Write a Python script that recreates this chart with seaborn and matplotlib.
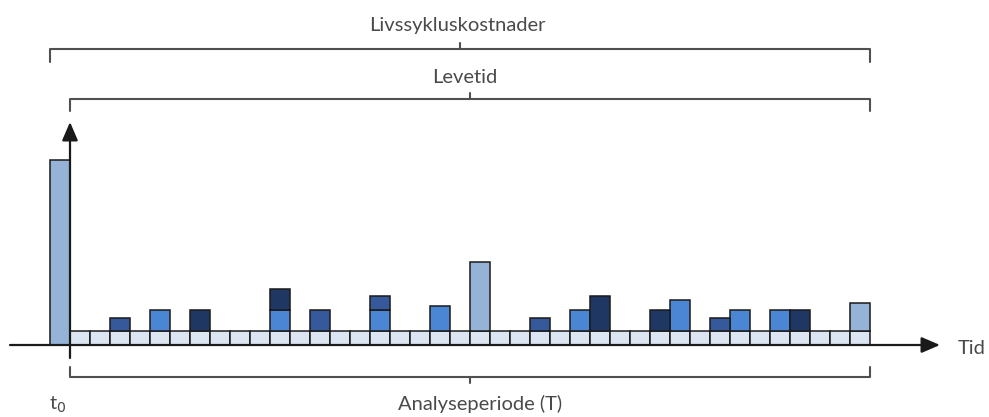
import numpy as np
import pandas as pd
import matplotlib
matplotlib.use("Agg")
import matplotlib.pyplot as plt
import seaborn as sns

# category 0 = t0, categories 1..40 = the periods of the analysis period
cells = list(range(41))

# bottom row (t0 investment + constant yearly cost)
base_h = [185] + [14] * 40
base_kind = ["investering"] + ["drift_fast"] * 40

# costs stacked on top of the yearly row
layer1_cells = [3, 5, 7, 11, 13, 16, 19, 21, 24, 26, 27, 30, 31, 33, 34, 36, 37, 40]
layer1_h = [13, 21, 21, 21, 21, 21, 25, 69, 13, 21, 35, 21, 31, 13, 21, 21, 21, 28]
layer1_kind = ["drift", "vedlikehold", "utskifting", "vedlikehold", "drift", "vedlikehold",
               "vedlikehold", "investering", "drift", "vedlikehold", "utskifting", "utskifting",
               "vedlikehold", "drift", "vedlikehold", "vedlikehold", "utskifting", "investering"]

# second stacked segment
layer2_cells = [11, 16]
layer2_h = [21, 14]
layer2_kind = ["utskifting", "drift"]

palette = {
    "investering": "#95b3d7",
    "drift_fast": "#dce6f2",
    "vedlikehold": "#4a86d3",
    "drift": "#35599a",
    "utskifting": "#1f3763",
}

sns.set_theme(style="white")
plt.rcParams["font.family"] = ["Lato", "DejaVu Sans"]

fig = plt.figure(figsize=(9.89, 4.17), dpi=100)
ax = fig.add_axes([0, 0, 1, 1])

bar_kws = dict(order=cells, hue_order=list(palette), palette=palette, dodge=False,
               width=1, saturation=1, legend=False, edgecolor="#1a1a1a", linewidth=1.1, ax=ax)

base_df = pd.DataFrame({"cell": cells, "h": base_h, "kind": base_kind})
sns.barplot(data=base_df, x="cell", y="h", hue="kind", **bar_kws)

l1 = pd.DataFrame({"cell": layer1_cells, "h": layer1_h, "kind": layer1_kind})
sns.barplot(data=l1, x="cell", y="h", hue="kind", bottom=14, **bar_kws)

l2 = pd.DataFrame({"cell": layer2_cells, "h": layer2_h, "kind": layer2_kind})
sns.barplot(data=l2, x="cell", y="h", hue="kind", bottom=35, **bar_kws)

ax.set_xlim(-3, 46.45)
ax.set_ylim(-72, 345)
ax.axis("off")

axis_col = "#1a1a1a"
arrow = dict(arrowstyle="-|>,head_length=0.7,head_width=0.3", color=axis_col, lw=1.6,
             shrinkA=0, shrinkB=0, mutation_scale=16)
# time axis and cost axis
ax.annotate("", xy=(44, 0), xytext=(-2.5, 0), arrowprops=arrow, zorder=5)
ax.annotate("", xy=(0.5, 223), xytext=(0.5, -13), arrowprops=arrow, zorder=5)

txt_col = "#4a4a4a"
br_col = "#505050"
fs = 14.5


def bracket(x0, x1, y, hook, xc, tick):
    ax.plot([x0, x0, x1, x1], [y + hook, y, y, y + hook], color=br_col, lw=1.5,
            solid_joinstyle="round", zorder=4)
    ax.plot([xc, xc], [y, y + tick], color=br_col, lw=1.5, zorder=4)


bracket(-0.5, 40.5, 296, -13, 20, 6)
bracket(0.5, 40.5, 246, -12, 20.5, 6)
bracket(0.5, 40.5, -32, 10, 20.5, -6)

ax.text(19.85, 320, "Livssykluskostnader", ha="center", va="center", fontsize=fs, color=txt_col)
ax.text(20.25, 268, "Levetid", ha="center", va="center", fontsize=fs, color=txt_col)
ax.text(21, -59, "Analyseperiode (T)", ha="center", va="center", fontsize=fs, color=txt_col)
ax.text(44.9, -4, "Tid", ha="left", va="center", fontsize=fs, color=txt_col)
ax.text(-0.1, -60, "t$_0$", ha="center", va="center", fontsize=fs, color=txt_col)

fig.savefig("out.png", dpi=100)
